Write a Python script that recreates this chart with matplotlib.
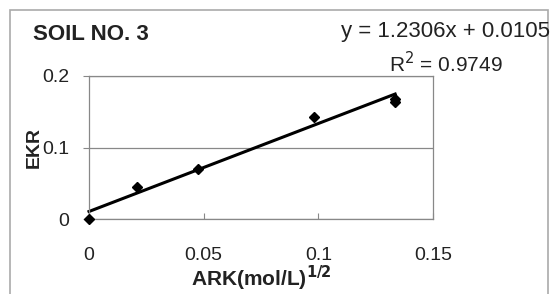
import matplotlib
matplotlib.use("Agg")
import matplotlib.pyplot as plt
from matplotlib.patches import Rectangle

ark = [0.0, 0.021, 0.0475, 0.098, 0.1335, 0.1335]
ekr = [0.0, 0.045, 0.070, 0.142, 0.164, 0.168]
slope, intercept = 1.2306, 0.0105
r2 = 0.9749
xticks = [0, 0.05, 0.1, 0.15]
xtick_labels = ["0", "0.05", "0.1", "0.15"]
yticks = [0, 0.1, 0.2]
ytick_labels = ["0", "0.1", "0.2"]

plt.rcParams['font.family'] = ['Liberation Sans', 'DejaVu Sans']
TXT = '#222222'
W, H = 555, 294

fig = plt.figure(figsize=(5.55, 2.94), dpi=100)
fig.patch.set_facecolor('white')
fig.add_artist(Rectangle((10/W, -0.05), 538/W, 1 - 10/H + 0.05, transform=fig.transFigure,
                         fill=False, edgecolor='#aaaaaa', lw=1.2))

L, R, T, B = 89, 433, 76, 219
ax = fig.add_axes([L/W, 1 - B/H, (R-L)/W, (B-T)/H])
ax.set_xlim(0, 0.15)
ax.set_ylim(0, 0.2)
ax.set_xticks(xticks)
ax.set_xticklabels(xtick_labels)
ax.set_yticks(yticks)
ax.set_yticklabels(ytick_labels)
ax.grid(axis='y', color='#888888', lw=0.9)
for s in ax.spines.values():
    s.set_color('#888888')
    s.set_linewidth(0.9)
ax.tick_params(axis='x', direction='in', length=4, color='#888888', labelsize=14, pad=20, labelcolor=TXT)
ax.tick_params(axis='y', direction='out', length=4, color='#888888', labelsize=14, pad=10, labelcolor=TXT)

xs = [min(ark), max(ark)]
ax.plot(xs, [slope * x + intercept for x in xs], color='black', lw=2.2, clip_on=False)
ax.plot(ark, ekr, 'D', color='black', ms=5.5, clip_on=False, zorder=5)

fig.text(261/W, 1 - 278/H, r"ARK(mol/L)$^{\mathbf{1/2}}$", fontsize=15, fontweight='bold',
         va='center', ha='center', color=TXT)
fig.text(34/W, 1 - 147/H, "EKR", fontsize=14, fontweight='bold', rotation=90,
         va='center', ha='center', color=TXT)

fig.text(33/W, 1 - 35/H, "SOIL NO. 3", fontsize=16, fontweight='bold', va='center', ha='left', color=TXT)
fig.text(550/W, 1 - 31/H, f"y = {slope}x + {intercept}", fontsize=16, va='center', ha='right', color=TXT)
fig.text(503/W, 1 - 64/H, f"R$^2$ = {r2}", fontsize=15, va='center', ha='right', color=TXT)

fig.savefig("out.png", dpi=100)
